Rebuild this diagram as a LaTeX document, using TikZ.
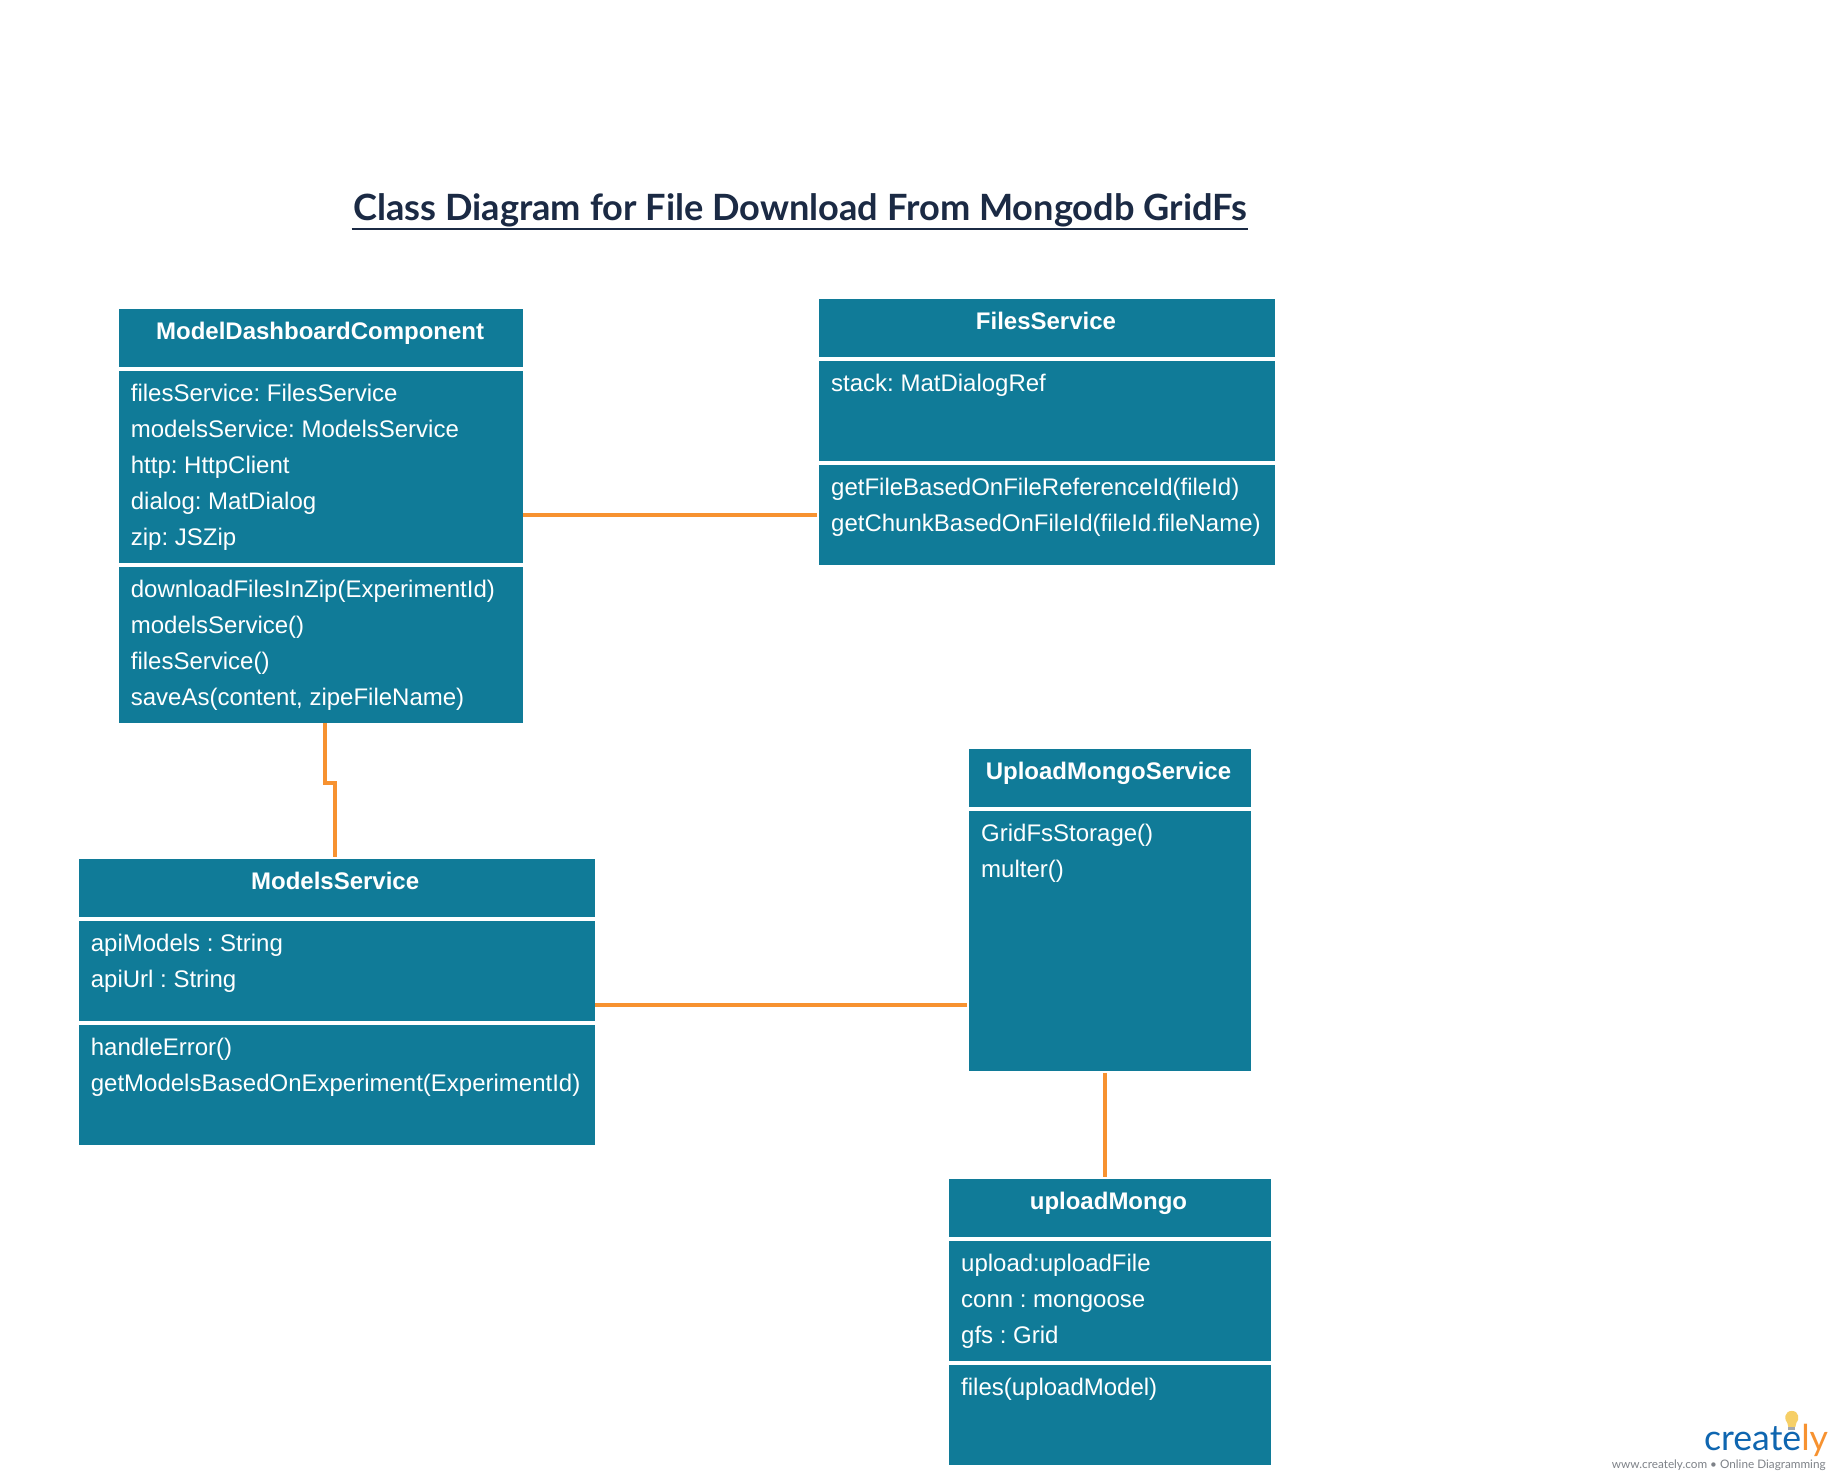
\documentclass[tikz,border=0pt]{standalone}
\usepackage{fontspec}
\setmainfont{Liberation Sans}
\newfontfamily\latofont{Lato}
\definecolor{boxteal}{HTML}{107B98}
\definecolor{linkorange}{HTML}{F79230}
\definecolor{titleink}{HTML}{1B2A44}
\definecolor{logoblue}{HTML}{0F66B0}
\definecolor{logogray}{HTML}{7E8288}
\definecolor{bulbyellow}{HTML}{F6CF66}
\tikzset{
  classbox/.style={fill=white,inner sep=0pt,outer sep=2pt,anchor=north west},
  partbox/.style={fill=boxteal,inner sep=0pt,outer sep=0pt,anchor=north west},
  classname/.style={text=white,inner sep=0pt,anchor=base,font=\fontsize{24}{36}\selectfont\bfseries},
  memberlist/.style={text=white,inner sep=0pt,anchor=north west,align=left,font=\fontsize{24}{36}\selectfont\frenchspacing},
  connector/.style={draw=linkorange,line width=4pt,line join=miter}
}
\begin{document}
\begin{tikzpicture}[x=1pt,y=1pt]
\filldraw[color=white] (0,-1482) rectangle (1840,0);
% Drawing title
\node[inner sep=0pt,anchor=base west,text=titleink,font=\fontsize{36.2}{40}\selectfont\latofont\bfseries] (title) at (353,-220) {Class Diagram for File Download From Mongodb GridFs};
\draw[color=titleink,line width=2pt] ([xshift=-1.5pt]title.base west |- 0,-229) -- ([xshift=1.5pt]title.base east |- 0,-229);
% Drawing classes
% Class: ModelDashboardComponent
\node[classbox,minimum width=404pt,minimum height=414pt] (mdc) at (117,-307) {};
\node[partbox,minimum width=404pt,minimum height=58pt] (mdchead) at (119,-309) {};
\node[partbox,minimum width=404pt,minimum height=192pt] (mdcattrs) at (119,-371) {};
\node[partbox,minimum width=404pt,minimum height=156pt] (mdcops) at (119,-567) {};
\node[classname] (mdcname) at (320,-339) {ModelDashboardComponent};
\node[memberlist] (mdcattrtext) at (130.5,-384) {filesService: FilesService\\modelsService: ModelsService\\http: HttpClient\\dialog: MatDialog\\zip: JSZip};
\node[memberlist] (mdcoptext) at (130.5,-580) {downloadFilesInZip(ExperimentId)\\modelsService()\\filesService()\\saveAs(content, zipeFileName)};
% Class: FilesService
\node[classbox,minimum width=456pt,minimum height=266pt] (fs) at (817,-297) {};
\node[partbox,minimum width=456pt,minimum height=58pt] (fshead) at (819,-299) {};
\node[partbox,minimum width=456pt,minimum height=100pt] (fsattrs) at (819,-361) {};
\node[partbox,minimum width=456pt,minimum height=100pt] (fsops) at (819,-465) {};
\node[classname] (fsname) at (1046,-329) {FilesService};
\node[memberlist] (fsattrtext) at (831,-374) {stack: MatDialogRef};
\node[memberlist] (fsoptext) at (831,-478) {getFileBasedOnFileReferenceId(fileId)\\getChunkBasedOnFileId(fileId.fileName)};
% Class: ModelsService
\node[classbox,minimum width=516pt,minimum height=286pt] (ms) at (77,-857) {};
\node[partbox,minimum width=516pt,minimum height=58pt] (mshead) at (79,-859) {};
\node[partbox,minimum width=516pt,minimum height=100pt] (msattrs) at (79,-921) {};
\node[partbox,minimum width=516pt,minimum height=120pt] (msops) at (79,-1025) {};
\node[classname] (msname) at (335,-889) {ModelsService};
\node[memberlist] (msattrtext) at (90.5,-934) {apiModels : String\\apiUrl : String};
\node[memberlist] (msoptext) at (90.5,-1038) {handleError()\\getModelsBasedOnExperiment(ExperimentId)};
% Class: UploadMongoService
\node[classbox,minimum width=282pt,minimum height=322pt] (ums) at (967,-747) {};
\node[partbox,minimum width=282pt,minimum height=58pt] (umshead) at (969,-749) {};
\node[partbox,minimum width=282pt,minimum height=260pt] (umsattrs) at (969,-811) {};
\node[classname] (umsname) at (1108.5,-779) {UploadMongoService};
\node[memberlist] (umsattrtext) at (981,-824) {GridFsStorage()\\multer()};
% Class: uploadMongo
\node[classbox,minimum width=322pt,minimum height=286pt] (um) at (947,-1177) {};
\node[partbox,minimum width=322pt,minimum height=58pt] (umhead) at (949,-1179) {};
\node[partbox,minimum width=322pt,minimum height=120pt] (umattrs) at (949,-1241) {};
\node[partbox,minimum width=322pt,minimum height=100pt] (umops) at (949,-1365) {};
\node[classname] (umname) at (1108.5,-1209.5) {uploadMongo};
\node[memberlist] (umattrtext) at (961,-1254) {upload:uploadFile\\conn : mongoose\\gfs : Grid};
\node[memberlist] (umoptext) at (961,-1378) {files(uploadModel)};
% Done with classes; drawing connectors
\draw[connector] ([xshift=-2pt,yshift=1pt]mdc.east) -- ([yshift=1pt]mdc.east -| fs.west);
\draw[connector] ([xshift=4pt,yshift=2pt]mdc.south) -- ++(0,-60) -| ([xshift=-2pt]ms.north);
\draw[connector] ([xshift=-2pt,yshift=-3pt]ms.east) -- ([yshift=-3pt]ms.east -| ums.west);
\draw[connector] ([xshift=-5pt]ums.south) -- ([xshift=-5pt]ums.south |- um.north);
% Done with connectors; drawing logo
\node[inner sep=0pt,anchor=base west,font=\fontsize{35.7}{36}\selectfont\latofont] (logo) at (1704,-1451) {\textcolor{logoblue}{create}\textcolor{linkorange}{ly}};
\node[inner sep=0pt,anchor=base east,text=logogray,font=\fontsize{11.75}{14}\selectfont\latofont] (logotag) at (1826,-1469) {www.creately.com • Online Diagramming};
\fill[bulbyellow] (1792,-1411) .. controls (1784.5,-1411) and (1784,-1420) .. (1787.5,-1423) -- (1788.5,-1427) -- (1795.5,-1427) -- (1796.5,-1423) .. controls (1800,-1420) and (1799.5,-1411) .. (1792,-1411) -- cycle;
\fill[logogray!70] (1788.5,-1427) rectangle (1795.5,-1430.5);
\end{tikzpicture}
\end{document}
